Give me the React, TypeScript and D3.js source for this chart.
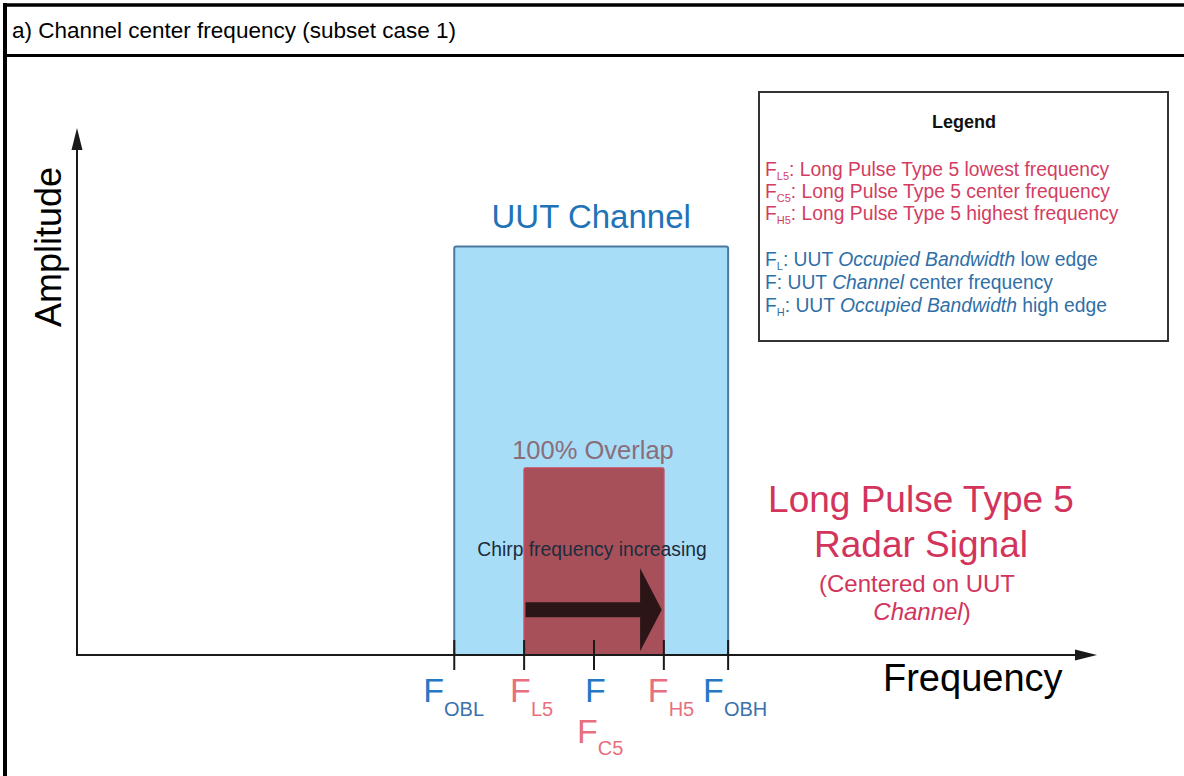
import React, { useEffect, useRef } from 'react';
import * as d3 from 'd3';

// frequency positions (arbitrary units, F = 0) of the marked points
const markNames = ['OBL', 'L5', '', 'H5', 'OBH'];
const markFreqs = [-2, -1, 0, 1, 1.92];
const markColors = ['blue', 'red', 'blue', 'red', 'blue'];

// UUT channel and radar signal bands (low, high) and their heights
const uutBand = [-2, 1.92];
const uutLevel = 7.75;
const radarBand = [-1, 1];
const radarLevel = 3.55;

// chirp arrow: start, head base, tip, and its level
const chirpFreqs = [-0.98, 0.66, 0.97];
const chirpLevel = 0.86;

const legendRed = [
  { sub: 'L5', text: ': Long Pulse Type 5 lowest frequency' },
  { sub: 'C5', text: ': Long Pulse Type 5 center frequency' },
  { sub: 'H5', text: ': Long Pulse Type 5 highest frequency' }
];
const legendBlue = [
  { sub: 'L', parts: [': UUT ', 'Occupied Bandwidth', ' low edge'] },
  { sub: '', parts: [': UUT ', 'Channel', ' center frequency'] },
  { sub: 'H', parts: [': UUT ', 'Occupied Bandwidth', ' high edge'] }
];

const FONT = '"Liberation Sans", Arial, Helvetica, sans-serif';
const BLUE = '#2677c4';
const BLUE_SUB = '#3a70ad';
const RED = '#e8707e';
const CRIMSON = '#d2345c';
const LEG_RED = '#d33d62';
const LEG_BLUE = '#2f6fa6';

const App: React.FC = () => {
  const svgRef = useRef<SVGSVGElement>(null);

  useEffect(() => {
    document.body.style.margin = '0';
    if (!svgRef.current) return;
    const svg = d3.select(svgRef.current);
    svg.selectAll('*').remove();

    const W = 1184;
    const H = 776;
    svg.attr('width', W).attr('height', H).attr('viewBox', `0 0 ${W} ${H}`);

    const x = d3.scaleLinear().domain([-7.4, 7.2]).range([77, 1097]);
    const y = d3.scaleLinear().domain([0, 10]).range([655, 128]);

    svg.append('rect').attr('width', W).attr('height', H).attr('fill', '#fff');

    // frame
    svg.append('line').attr('x1', 3).attr('x2', W).attr('y1', 5).attr('y2', 5)
      .attr('stroke', '#000').attr('stroke-width', 3.5);
    svg.append('line').attr('x1', 5).attr('x2', 5).attr('y1', 3).attr('y2', H)
      .attr('stroke', '#000').attr('stroke-width', 4);
    svg.append('line').attr('x1', 3).attr('x2', W).attr('y1', 55.5).attr('y2', 55.5)
      .attr('stroke', '#000').attr('stroke-width', 3);

    svg.append('text')
      .attr('x', 12).attr('y', 38)
      .attr('font-family', FONT).attr('font-size', 22.5).attr('fill', '#000')
      .text('a) Channel center frequency (subset case 1)');

    // UUT channel
    svg.append('rect')
      .attr('x', x(uutBand[0])).attr('y', y(uutLevel))
      .attr('width', x(uutBand[1]) - x(uutBand[0]))
      .attr('height', y(0) - y(uutLevel))
      .attr('rx', 2)
      .attr('fill', '#a8ddf7').attr('stroke', '#4a79a2').attr('stroke-width', 2);

    svg.append('text')
      .attr('x', (x(uutBand[0]) + x(uutBand[1])) / 2).attr('y', y(uutLevel) - 19)
      .attr('text-anchor', 'middle')
      .attr('font-family', FONT).attr('font-size', 33).attr('fill', '#1f73b7')
      .text('UUT Channel');

    // radar signal
    svg.append('rect')
      .attr('x', x(radarBand[0])).attr('y', y(radarLevel))
      .attr('width', x(radarBand[1]) - x(radarBand[0]))
      .attr('height', y(0) - y(radarLevel))
      .attr('rx', 1.5)
      .attr('fill', '#a8505a').attr('stroke', '#c44a5a').attr('stroke-width', 1.5);

    svg.append('text')
      .attr('x', x(0) - 1).attr('y', y(radarLevel) - 9)
      .attr('text-anchor', 'middle')
      .attr('font-family', FONT).attr('font-size', 25.5).attr('fill', '#8a6d7b')
      .text('100% Overlap');

    svg.append('text')
      .attr('x', x(0) - 2).attr('y', 556)
      .attr('text-anchor', 'middle')
      .attr('font-family', FONT).attr('font-size', 19.3).attr('fill', '#1c2c3c')
      .text('Chirp frequency increasing');

    // chirp arrow
    const ay = y(chirpLevel);
    const shaft = 7.5;
    const head = 41.5;
    const arrowPts: [number, number][] = [
      [x(chirpFreqs[0]), ay - shaft],
      [x(chirpFreqs[1]), ay - shaft],
      [x(chirpFreqs[1]), ay - head],
      [x(chirpFreqs[2]), ay],
      [x(chirpFreqs[1]), ay + head],
      [x(chirpFreqs[1]), ay + shaft],
      [x(chirpFreqs[0]), ay + shaft]
    ];
    svg.append('path')
      .attr('d', d3.line()(arrowPts) + 'Z')
      .attr('fill', '#2b1517');

    // axes
    const axisColor = '#1a1a1a';
    svg.append('line')
      .attr('x1', x(-7.4)).attr('x2', x(7.2) - 14).attr('y1', y(0)).attr('y2', y(0))
      .attr('stroke', axisColor).attr('stroke-width', 2);
    svg.append('path')
      .attr('d', `M${x(7.2)},${y(0)} L${x(7.2) - 22},${y(0) - 5.5} L${x(7.2) - 22},${y(0) + 5.5} Z`)
      .attr('fill', axisColor);
    svg.append('line')
      .attr('x1', x(-7.4)).attr('x2', x(-7.4)).attr('y1', y(0) + 1).attr('y2', y(10) + 14)
      .attr('stroke', axisColor).attr('stroke-width', 2);
    svg.append('path')
      .attr('d', `M${x(-7.4)},${y(10)} L${x(-7.4) - 5.5},${y(10) + 22} L${x(-7.4) + 5.5},${y(10) + 22} Z`)
      .attr('fill', axisColor);

    svg.append('text')
      .attr('transform', `translate(61, 247) rotate(-90)`)
      .attr('text-anchor', 'middle')
      .attr('font-family', FONT).attr('font-size', 36).attr('fill', '#000')
      .text('Amplitude');

    svg.append('text')
      .attr('x', 883).attr('y', 691)
      .attr('font-family', FONT).attr('font-size', 38).attr('fill', '#000')
      .text('Frequency');

    // ticks
    svg.selectAll('line.tick')
      .data(markFreqs)
      .enter()
      .append('line')
      .attr('class', 'tick')
      .attr('x1', d => x(d)).attr('x2', d => x(d))
      .attr('y1', 640).attr('y2', 670)
      .attr('stroke', axisColor).attr('stroke-width', 2);

    // tick labels
    const labelDx = [-31, -14, -9, -16, -25];
    const labels = markFreqs.map((f, i) => ({
      f, name: markNames[i], color: markColors[i], dx: labelDx[i], base: 702, subDy: 14
    }));
    labels.push({ f: 0, name: 'C5', color: 'red', dx: -17, base: 743, subDy: 12 });

    labels.forEach(l => {
      const t = svg.append('text')
        .attr('x', x(l.f) + l.dx).attr('y', l.base)
        .attr('font-family', FONT);
      t.append('tspan')
        .attr('font-size', 34)
        .attr('fill', l.color === 'blue' ? BLUE : RED)
        .text('F');
      if (l.name) {
        t.append('tspan')
          .attr('dy', l.subDy)
          .attr('font-size', 20)
          .attr('fill', l.color === 'blue' ? BLUE_SUB : RED)
          .text(l.name);
      }
    });

    // radar signal label
    const radarLines = ['Long Pulse Type 5', 'Radar Signal'];
    radarLines.forEach((s, i) => {
      svg.append('text')
        .attr('x', 921).attr('y', 512 + i * 45)
        .attr('text-anchor', 'middle')
        .attr('font-family', FONT).attr('font-size', 37).attr('fill', CRIMSON)
        .text(s);
    });
    svg.append('text')
      .attr('x', 917).attr('y', 592)
      .attr('text-anchor', 'middle')
      .attr('font-family', FONT).attr('font-size', 24).attr('fill', CRIMSON)
      .text('(Centered on UUT');
    const ch = svg.append('text')
      .attr('x', 922).attr('y', 620)
      .attr('text-anchor', 'middle')
      .attr('font-family', FONT).attr('font-size', 24).attr('fill', CRIMSON);
    ch.append('tspan').attr('font-style', 'italic').text('Channel');
    ch.append('tspan').text(')');

    // legend
    const lg = svg.append('g');
    lg.append('rect')
      .attr('x', 759).attr('y', 92).attr('width', 409).attr('height', 249)
      .attr('fill', '#fff').attr('stroke', '#333').attr('stroke-width', 2);
    lg.append('text')
      .attr('x', 964).attr('y', 128)
      .attr('text-anchor', 'middle')
      .attr('font-family', FONT).attr('font-size', 18).attr('font-weight', 'bold')
      .attr('fill', '#111')
      .text('Legend');

    legendRed.forEach((d, i) => {
      const t = lg.append('text')
        .attr('x', 765).attr('y', 176 + i * 22)
        .attr('font-family', FONT).attr('font-size', 19.3).attr('fill', LEG_RED);
      t.append('tspan').text('F');
      t.append('tspan').attr('font-size', 11).attr('dy', 4).text(d.sub);
      t.append('tspan').attr('dy', -4).text(d.text);
    });

    legendBlue.forEach((d, i) => {
      const t = lg.append('text')
        .attr('x', 765).attr('y', 266 + i * 23)
        .attr('font-family', FONT).attr('font-size', 19.3).attr('fill', LEG_BLUE);
      t.append('tspan').text('F');
      if (d.sub) {
        t.append('tspan').attr('font-size', 11).attr('dy', 4).text(d.sub);
        t.append('tspan').attr('dy', -4).text(d.parts[0]);
      } else {
        t.append('tspan').text(d.parts[0]);
      }
      t.append('tspan').attr('font-style', 'italic').text(d.parts[1]);
      t.append('tspan').text(d.parts[2]);
    });
  }, []);

  return (
    <div style={{ width: 1184, height: 776 }}>
      <svg ref={svgRef} style={{ display: 'block' }} />
    </div>
  );
};

export default App;
